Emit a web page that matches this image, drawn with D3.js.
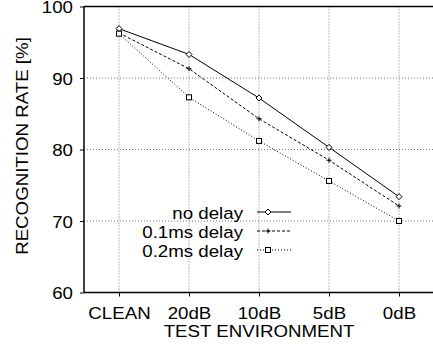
<!DOCTYPE html>
<html>
<head>
<meta charset="utf-8">
<script src="https://cdn.jsdelivr.net/npm/d3@7"></script>
<style>
  body { margin: 0; background: #fff; }
  svg text { font-family: "Liberation Sans", Arial, sans-serif; fill: #000; }
</style>
</head>
<body>
<div id="chart"></div>
<script>
const categories = ["CLEAN", "20dB", "10dB", "5dB", "0dB"];
const noDelay = [96.9, 93.3, 87.2, 80.3, 73.4];
const delay01 = [96.3, 91.3, 84.3, 78.5, 72.1];
const delay02 = [96.2, 87.3, 81.2, 75.6, 70.0];
const yTicks = [60, 70, 80, 90, 100];

const series = [
    { name: "no delay", values: noDelay, dash: null, marker: "diamond" },
    { name: "0.1ms delay", values: delay01, dash: "3,2", marker: "plus" },
    { name: "0.2ms delay", values: delay02, dash: "1,2", marker: "square" }
];

const W = 433, H = 347;
const margin = { top: 6.5, right: -1, bottom: 54.5, left: 84 };
const width = W - margin.left - margin.right;
const height = H - margin.top - margin.bottom;
const fs = "17px";
const stretch = "scale(1.1,1)"; // the original font is a bit wider than Liberation Sans

const svg = d3.select("#chart").append("svg")
    .attr("width", W)
    .attr("height", H);

const g = svg.append("g")
    .attr("transform", `translate(${margin.left},${margin.top})`);

const x = d3.scaleLinear()
    .domain([-0.5, categories.length - 0.5])
    .range([0, width]);

const y = d3.scaleLinear()
    .domain([60, 100])
    .range([height, 0]);

// grid
g.selectAll(".vgrid")
    .data(categories)
    .enter().append("line")
    .attr("x1", (d, i) => x(i)).attr("x2", (d, i) => x(i))
    .attr("y1", 0).attr("y2", height)
    .attr("stroke", "#777")
    .attr("stroke-width", 1)
    .attr("stroke-dasharray", "1,2");

g.selectAll(".hgrid")
    .data(yTicks.slice(1, -1))
    .enter().append("line")
    .attr("x1", 0).attr("x2", width)
    .attr("y1", d => y(d)).attr("y2", d => y(d))
    .attr("stroke", "#777")
    .attr("stroke-width", 1)
    .attr("stroke-dasharray", "1,2");

// frame
g.append("line").attr("x1", 0).attr("x2", width).attr("y1", 0).attr("y2", 0)
    .attr("stroke", "#000").attr("stroke-width", 1.5);
g.append("line").attr("x1", 0).attr("x2", width).attr("y1", height).attr("y2", height)
    .attr("stroke", "#000").attr("stroke-width", 1.5);
g.append("line").attr("x1", 0).attr("x2", 0).attr("y1", 0).attr("y2", height)
    .attr("stroke", "#000").attr("stroke-width", 1.5);

// axes
const yAxis = g.append("g")
    .call(d3.axisLeft(y).tickValues(yTicks).tickSize(4).tickPadding(7));
yAxis.select(".domain").remove();
yAxis.selectAll("text")
    .style("font-size", fs)
    .attr("dy", "0.36em")
    .attr("x", -11 / 1.1)
    .attr("transform", stretch);

const xAxis = g.append("g")
    .attr("transform", `translate(0,${height})`)
    .call(d3.axisBottom(x).tickValues(d3.range(categories.length))
        .tickFormat(i => categories[i]).tickSize(4).tickPadding(10));
xAxis.select(".domain").remove();
xAxis.selectAll("text")
    .style("font-size", fs)
    .attr("transform", stretch);

// lines
const line = d3.line()
    .x((d, i) => x(i))
    .y(d => y(d));

function drawMarker(sel, type, cx, cy) {
    if (type === "diamond") {
        sel.append("path")
            .attr("d", `M${cx},${cy - 3}L${cx + 3},${cy}L${cx},${cy + 3}L${cx - 3},${cy}Z`)
            .attr("fill", "#fff").attr("stroke", "#000").attr("stroke-width", 1);
    } else if (type === "plus") {
        sel.append("path")
            .attr("d", `M${cx - 2.5},${cy}H${cx + 2.5}M${cx},${cy - 2.5}V${cy + 2.5}`)
            .attr("stroke", "#000").attr("stroke-width", 1);
    } else {
        sel.append("rect")
            .attr("x", cx - 2.5).attr("y", cy - 2.5)
            .attr("width", 5).attr("height", 5)
            .attr("fill", "#fff").attr("stroke", "#000").attr("stroke-width", 1);
    }
}

series.forEach(s => {
    g.append("path")
        .datum(s.values)
        .attr("d", line)
        .attr("fill", "none")
        .attr("stroke", "#000")
        .attr("stroke-width", 1)
        .attr("stroke-dasharray", s.dash);
    s.values.forEach((v, i) => drawMarker(g, s.marker, x(i), y(v)));
});

// legend
const legend = svg.append("g");
series.forEach((s, i) => {
    const ly = 212 + i * 19;
    legend.append("text")
        .attr("transform", `translate(243,${ly + 6.5}) ${stretch}`)
        .attr("text-anchor", "end")
        .style("font-size", fs)
        .text(s.name);
    legend.append("line")
        .attr("x1", 257).attr("x2", 291)
        .attr("y1", ly).attr("y2", ly)
        .attr("stroke", "#000").attr("stroke-width", 1)
        .attr("stroke-dasharray", s.dash);
    drawMarker(legend, s.marker, 268, ly);
});

// axis titles
svg.append("text")
    .attr("transform", `translate(28,146) rotate(-90) ${stretch}`)
    .attr("text-anchor", "middle")
    .style("font-size", fs)
    .text("RECOGNITION RATE [%]");

svg.append("text")
    .attr("transform", `translate(259,336.5) ${stretch}`)
    .attr("text-anchor", "middle")
    .style("font-size", fs)
    .text("TEST ENVIRONMENT");
</script>
</body>
</html>
